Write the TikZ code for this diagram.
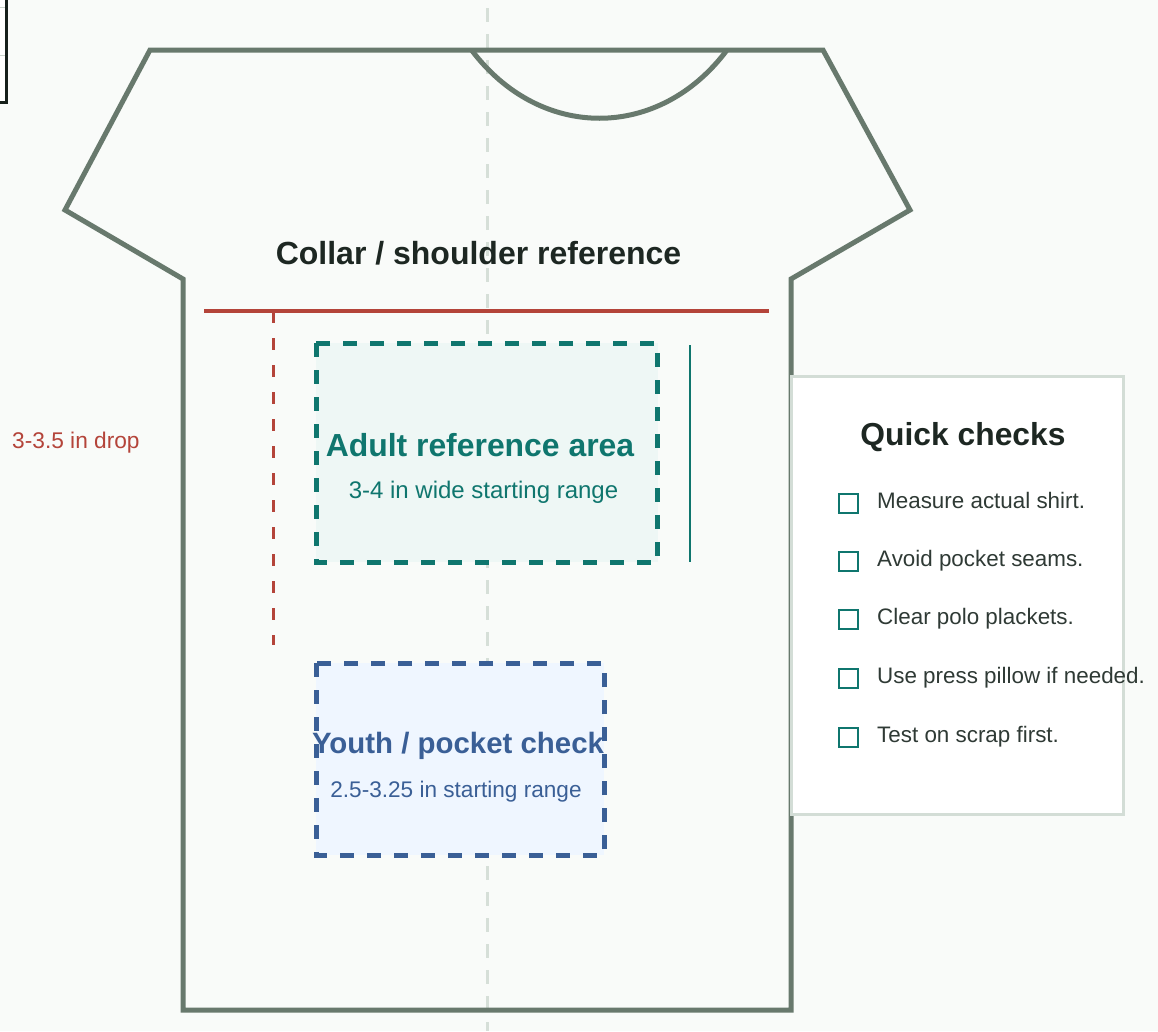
\documentclass[tikz,border=0pt]{standalone}
\usepackage{fontspec}
\setmainfont{Liberation Sans}
\newcommand\myfs[1]{\fontsize{#1}{#1}\selectfont}
\definecolor{bgc}{HTML}{F9FBF9}
\definecolor{shirtc}{HTML}{68796D}
\definecolor{guidec}{HTML}{D6DFD8}
\definecolor{redc}{HTML}{B4443A}
\definecolor{tealc}{HTML}{0F766E}
\definecolor{tealfill}{HTML}{EEF7F5}
\definecolor{bluec}{HTML}{3A5F96}
\definecolor{bluefill}{HTML}{EFF6FF}
\definecolor{darkc}{HTML}{1D2722}
\definecolor{boxc}{HTML}{16201B}
\definecolor{textc}{HTML}{2F3A35}
\definecolor{panelc}{HTML}{D3DDD6}
\definecolor{tickc}{HTML}{C9D3CC}
\tikzset{
  shirtline/.style={draw=shirtc, line width=5pt, line join=miter},
  guideline/.style={draw=guidec, line width=3pt, dash pattern=on 14pt off 12pt},
  areabox/.style={line width=5pt, dash pattern=on 14pt off 13pt},
  chk/.style={draw=tealc, line width=2pt, minimum size=19pt, inner sep=0pt},
  chktext/.style={anchor=base west, inner sep=0pt, text=textc, font=\myfs{22.4}},
}
\begin{document}
\begin{tikzpicture}[x=1pt,y=-1pt]
\useasboundingbox (0,0) rectangle (1158,1031);
\fill[bgc] (0,0) rectangle (1158,1031);
% cut-off box at top left
\draw[draw=boxc, line width=3.5pt, fill=white] (-20,-20) rectangle (6.5,102.5);
\draw[tickc, line width=1.5pt] (0,7.3) -- (4.5,7.3);
\draw[tickc, line width=1.5pt] (0,55.7) -- (4.5,55.7);
% centre guide
\coordinate (gtop) at (487,8);
\coordinate (gbot) at (487,1031);
\draw[guideline] (gtop) -- (gbot);
% shirt
\draw[shirtline] (150,50) -- (823,50) -- (910,210) -- (791,279) -- (791,1010)
  -- (183,1010) -- (183,279) -- (65,210) -- cycle;
\draw[shirtline] (471.5,50) .. controls (540,141) and (659,141) .. (727,50);
% collar reference line
\coordinate (rl) at (204,311);
\coordinate (rr) at (769,311);
\draw[redc, line width=3pt, dash pattern=on 12pt off 15pt] (273,311) coordinate (dtop) -- (273,645) coordinate (dbot);
\draw[redc, line width=4pt] (rl) -- (rr);
% adult area
\draw[areabox, draw=tealc, fill=tealfill] (316,343) rectangle (657.5,562);
\coordinate (tvt) at (690,345);
\coordinate (tvb) at (690,562);
\draw[tealc, line width=2.5pt] (tvt) -- (tvb);
% youth area
\draw[areabox, draw=bluec, fill=bluefill] (316,663) rectangle (604,855);
% texts
\node[anchor=base, inner sep=0pt, text=darkc, font=\bfseries\myfs{32}] (collar) at (478.5,264) {Collar / shoulder reference};
\node[anchor=base, inner sep=0pt, text=tealc, font=\bfseries\myfs{31.9}] (adult) at (480,456) {Adult reference area};
\node[anchor=base, inner sep=0pt, text=tealc, font=\myfs{24}] (adultsub) at (483.5,498) {3-4 in wide starting range};
\node[anchor=base, inner sep=0pt, text=bluec, font=\bfseries\myfs{29.4}] (youth) at (458,753) {Youth / pocket check};
\node[anchor=base, inner sep=0pt, text=bluec, font=\myfs{22.6}] (youthsub) at (456,797) {2.5-3.25 in starting range};
\node[anchor=base west, inner sep=0pt, text=redc, font=\myfs{22.7}] (drop) at (12,448) {3-3.5 in drop};
% quick checks panel
\node[draw=panelc, line width=2.5pt, fill=white, minimum width=332pt, minimum height=438pt, inner sep=0pt, anchor=north west] (panel) at (790,375) {};
\node[anchor=base, inner sep=0pt, text=darkc, font=\bfseries\myfs{31.8}] (qtitle) at (963,445) {Quick checks};
\node[chk] (c1) at (848,503) {};
\node[chktext] (t1) at (877,508.5) {Measure actual shirt.};
\node[chk] (c2) at (848,561) {};
\node[chktext] (t2) at (877,566.5) {Avoid pocket seams.};
\node[chk] (c3) at (848,619) {};
\node[chktext] (t3) at (877,624.5) {Clear polo plackets.};
\node[chk] (c4) at (848,678) {};
\node[chktext] (t4) at (877,683.5) {Use press pillow if needed.};
\node[chk] (c5) at (848,737) {};
\node[chktext] (t5) at (877,742.5) {Test on scrap first.};
\end{tikzpicture}
\end{document}
